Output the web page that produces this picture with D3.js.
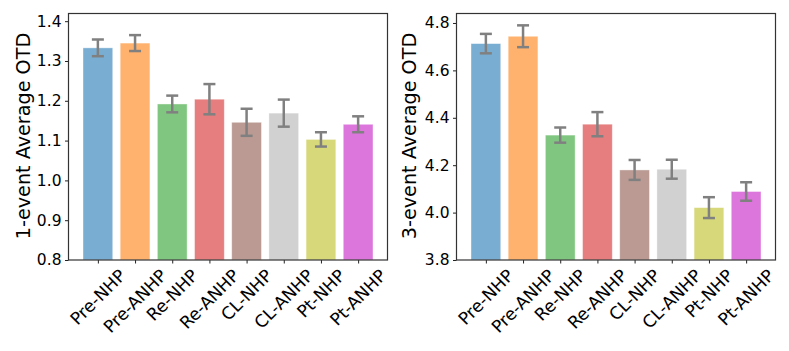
<!DOCTYPE html>
<html>
<head>
<meta charset="utf-8">
<script src="https://cdn.jsdelivr.net/npm/d3@7"></script>
<style>
  body { margin: 0; background: #fff; }
  svg { font-family: "DejaVu Sans", sans-serif; }
</style>
</head>
<body>
<div id="chart"></div>
<script>
// values
var categories = ["Pre-NHP", "Pre-ANHP", "Re-NHP", "Re-ANHP", "CL-NHP", "CL-ANHP", "Pt-NHP", "Pt-ANHP"]
var barColors = ["#79add2", "#ffb26e", "#80c680", "#e67d7e", "#ba9a93", "#d1d1d1", "#d7d87a", "#dc75dc"]

var oneEventMean = [1.333, 1.345, 1.192, 1.204, 1.146, 1.169, 1.103, 1.141]
var oneEventErr = [0.021, 0.020, 0.021, 0.038, 0.034, 0.034, 0.018, 0.020]
var oneEventTicks = [0.8, 0.9, 1.0, 1.1, 1.2, 1.3, 1.4]

var threeEventMean = [4.713, 4.744, 4.327, 4.373, 4.180, 4.183, 4.021, 4.089]
var threeEventErr = [0.041, 0.046, 0.032, 0.051, 0.042, 0.040, 0.044, 0.039]
var threeEventTicks = [3.8, 4.0, 4.2, 4.4, 4.6, 4.8]

var svg = d3.select("#chart").append("svg")
    .attr("width", 789)
    .attr("height", 351)

function drawPanel(opts) {
    var left = opts.left, right = opts.right, top = 13.5, bottom = 260

    var xScale = d3.scaleLinear()
        .domain([-0.79, 7.79])
        .range([left, right])
    var yScale = d3.scaleLinear()
        .domain(opts.domain)
        .range([bottom, top])
    var bw = xScale(0.8) - xScale(0)

    var g = svg.append("g")

    // bars
    g.selectAll("rect.bar").data(opts.means)
        .enter().append("rect")
        .attr("class", "bar")
        .attr("x", (d, i) => xScale(i) - bw / 2)
        .attr("width", bw)
        .attr("y", d => yScale(d))
        .attr("height", d => bottom - yScale(d))
        .attr("fill", (d, i) => barColors[i])
        .attr("stroke", "#ffffff")
        .attr("stroke-opacity", 0.5)
        .attr("stroke-width", 0.8)

    // error bars
    var eb = g.selectAll("g.err").data(opts.means)
        .enter().append("g")
        .attr("class", "err")
        .attr("stroke", "#808080")
        .attr("stroke-width", 2.5)
    eb.append("line")
        .attr("x1", (d, i) => xScale(i)).attr("x2", (d, i) => xScale(i))
        .attr("y1", (d, i) => yScale(d - opts.errs[i]))
        .attr("y2", (d, i) => yScale(d + opts.errs[i]))
    eb.append("line")
        .attr("x1", (d, i) => xScale(i) - 6).attr("x2", (d, i) => xScale(i) + 6)
        .attr("y1", (d, i) => yScale(d - opts.errs[i]))
        .attr("y2", (d, i) => yScale(d - opts.errs[i]))
    eb.append("line")
        .attr("x1", (d, i) => xScale(i) - 6).attr("x2", (d, i) => xScale(i) + 6)
        .attr("y1", (d, i) => yScale(d + opts.errs[i]))
        .attr("y2", (d, i) => yScale(d + opts.errs[i]))

    // y axis
    var yAxis = d3.axisLeft(yScale)
        .tickValues(opts.ticks)
        .tickFormat(d3.format(".1f"))
        .tickSize(3.5)
        .tickPadding(3.5)
    var ya = g.append("g")
        .attr("transform", `translate(${left}, 0)`)
        .call(yAxis)
    ya.select(".domain").remove()
    ya.selectAll("line").attr("stroke", "#222").attr("stroke-width", 1)
    ya.selectAll("text").attr("font-size", 15.5).attr("fill", "#000")
        .attr("font-family", "DejaVu Sans")

    // x axis
    var xAxis = d3.axisBottom(xScale)
        .tickValues(d3.range(categories.length))
        .tickFormat("")
        .tickSize(3.5)
    var xa = g.append("g")
        .attr("transform", `translate(0, ${bottom})`)
        .call(xAxis)
    xa.select(".domain").remove()
    xa.selectAll("line").attr("stroke", "#222").attr("stroke-width", 1)

    // rotated category labels, bbox centred on tick
    var fs = 17.2
    g.selectAll("text.cat").data(categories)
        .enter().append("text")
        .attr("class", "cat")
        .attr("font-size", fs)
        .attr("text-anchor", "middle")
        .attr("dominant-baseline", "central")
        .text(d => d)
        .attr("transform", function(d, i) {
            var L = this.getComputedTextLength()
            var h = fs * 0.9
            var half = (L + h) * Math.SQRT1_2 / 2
            return `translate(${xScale(i)}, ${bottom + 7 + half}) rotate(-45)`
        })

    // frame
    g.append("rect")
        .attr("x", left).attr("y", top)
        .attr("width", right - left).attr("height", bottom - top)
        .attr("fill", "none")
        .attr("stroke", "#333")
        .attr("stroke-width", 1.2)

    // y label
    svg.append("text")
        .attr("transform", `translate(${opts.labelX}, 136) rotate(-90)`)
        .attr("text-anchor", "middle")
        .attr("dominant-baseline", "central")
        .attr("font-size", 19.2)
        .text(opts.label)
}

drawPanel({
    left: 68.5, right: 387.5,
    domain: [0.8, 1.4193],
    means: oneEventMean, errs: oneEventErr, ticks: oneEventTicks,
    label: "1-event Average OTD", labelX: 23
})

drawPanel({
    left: 456.5, right: 775.5,
    domain: [3.8, 4.84],
    means: threeEventMean, errs: threeEventErr, ticks: threeEventTicks,
    label: "3-event Average OTD", labelX: 409
})
</script>
</body>
</html>
